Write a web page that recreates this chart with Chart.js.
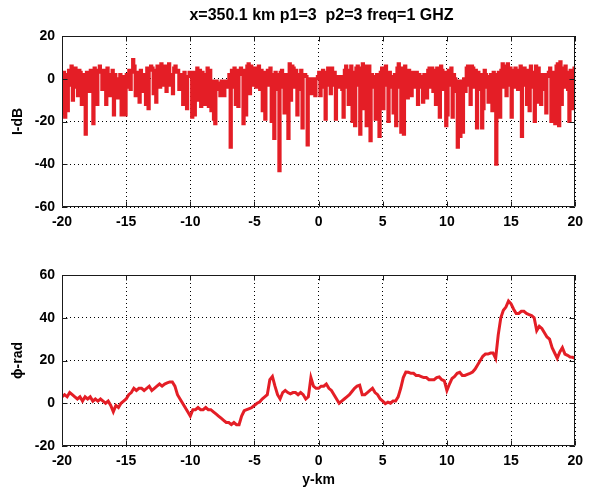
<!DOCTYPE html>
<html><head><meta charset="utf-8">
<script src="https://cdn.jsdelivr.net/npm/chart.js@4.4.1/dist/chart.umd.min.js"></script>
<style>
html,body{margin:0;padding:0;background:#fff;width:590px;height:494px;overflow:hidden}
#title{position:absolute;left:62px;width:519px;top:6px;text-align:center;font:bold 16px 'Liberation Sans','DejaVu Sans',sans-serif;color:#000;white-space:pre}
#c1{position:absolute;left:0;top:0}
#c2{position:absolute;left:0;top:240px}
</style></head><body>
<canvas id="c1" width="590" height="240"></canvas>
<canvas id="c2" width="590" height="254"></canvas>
<div id="title">x=350.1 km p1=3  p2=3 freq=1 GHZ</div>
<script>
// ---- data ----
const xStart = -20, xEnd = 20;
const xTicks = [-20, -15, -10, -5, 0, 5, 10, 15, 20];
const topTicks = [-60, -40, -20, 0, 20];
const bottomTicks = [-20, 0, 20, 40, 60];

// I-dB, samples every 0.1 km from -20 to 20
const intensityDb = [
 -16, 3, -18, 2, -15, 4, -3, 6, -10, 3,
 5, -4, -8, 4, 3, -12, 2, -5, -26, 3,
 2, -6, 4, -3, -21, 5, 3, -12, 4, 6,
 3, -5, 4, -4, -12, 5, -3, -8, 2, 4,
 -17, 2, -4, -9, 0, 2, -17, 1, -6, -17,
 2, -4, 4, -5, 3, 9, 6, -8, 3, -3,
 -11, 4, -2, -6, 2, -12, 5, -14, 4, 6,
 5, -7, 4, -11, 6, -2, -4, 7, 6, -3,
 6, -6, 5, 7, -3, 2, -7, 5, 6, 3,
 4, -5, 2, -3, -12, 3, -4, -14, 1, 3,
 2, -18, 3, -17, 1, 5, -10, 4, -13, 3,
 2, -12, -3, 5, -13, 4, -15, -1, -19, -21,
 -1, -5, -2, -8, -1, -6, -8, -1, -4, -2,
 2, -32, 4, -4, 5, -12, 4, -13, 3, 5,
 2, -21, 4, -17, 6, 7, -7, 6, -3, 4,
 5, -4, 3, 6, -5, 4, -15, 3, -19, 2,
 4, -3, 5, -20, 2, -28, 3, -5, 2, -43,
 3, 4, -4, -16, 2, -3, -28, 7, -10, 6,
 5, -4, 4, -17, 2, -5, 4, -23, 1, 2,
 1, -31, 0, -5, -7, 0, -4, -8, 0, 1,
 3, -8, 2, 4, -4, -19, 3, 5, -3, -7,
 5, -3, 3, -19, 1, -4, 0, 1, -5, -18,
 4, 6, -4, -12, 4, 6, -20, 3, -22, 5,
 6, -3, -26, 5, 7, -14, 6, -22, 4, 6,
 -29, 2, -4, 1, -19, 2, -5, -27, 3, 5,
 -14, 5, 6, -3, -20, 3, -4, 1, -16, 2,
 -22, 5, 7, -4, -25, 5, -26, 6, 3, -9,
 4, -3, -8, 3, -4, 2, 3, -12, 2, -4,
 1, -11, 2, -3, -9, 4, 5, -4, 5, -6,
 4, -12, 5, -3, -18, 6, 4, -5, 3, -22,
 -17, 4, -3, 5, -18, 2, 0, -6, -32, -1,
 -27, -1, -25, 0, -6, 5, 6, -3, -12, 6,
 5, -4, 4, -23, 3, -5, 2, -23, -14, 4,
 2, -4, -11, 1, 2, -15, 3, -5, -40, 2,
 3, -18, 4, 7, -4, 6, -8, 7, -3, 5,
 -18, 4, -4, 5, 4, -5, 2, 6, -27, 4,
 5, -3, -12, 4, -15, 6, -4, 3, -20, 6,
 -11, 5, -3, -12, 2, -5, 2, -16, 1, 3,
 5, -20, 3, -4, -21, 6, 7, -22, 8, -12,
 5, -4, 6, 3, -5, -20, 4, -3, -14, 5,
 4
];

// phase (rad), samples every 0.2 km from -20 to 20
const phaseRad = [
 3, 4, 3, 5, 4,
 3, 2, 3, 1, 3,
 2, 3, 1, 2, 1,
 2, 1, 0, 1, -1,
 -4, -1, -2, 0, 1,
 2, 4, 5, 7, 6,
 7, 7, 6, 7, 8,
 6, 7, 8, 9, 8,
 9, 9.5, 10, 10, 8,
 4, 2, 0, -2, -4,
 -6, -3, -3, -2, -3,
 -3, -2, -3, -3, -4,
 -5, -6, -7, -8, -9,
 -9, -10, -9, -10, -10,
 -6, -3.5, -3, -2.5, -2,
 -1, 0, 0.6, 2, 3,
 4, 11, 12.5, 8, 4,
 2, 5, 6, 5, 4.4,
 5, 5, 4, 5, 4,
 2, 3, 12, 8, 7,
 7, 8, 8, 9, 7,
 6, 4, 2, 0, 1,
 2, 3, 4, 5.5, 7,
 8, 8.4, 4, 4, 5,
 6, 7, 5, 4, 2,
 1, -0.2, 0.5, 0, 1,
 1, 3, 7, 12, 14.6,
 14.5, 14, 14, 13, 13,
 12.5, 12, 12, 11, 11,
 11, 12, 12.3, 11, 10.5,
 6, 9, 11.6, 12.5, 14,
 14.5, 13, 13, 13.5, 14,
 14.6, 16, 18, 20, 22,
 23, 23, 23.5, 23.5, 21,
 32, 40, 43.5, 45, 47.8,
 46.5, 44, 42, 42, 43,
 43, 42, 41.5, 41, 40,
 34, 36, 35, 33, 31,
 30, 26, 23.5, 21, 24,
 26, 23, 22.4, 21.6, 21.5,
 21
];

function toPoints(vals) {
  const step = (xEnd - xStart) / (vals.length - 1);
  return vals.map((v, i) => ({ x: xStart + i * step, y: v }));
}

const FONT = "'Liberation Sans','DejaVu Sans',sans-serif";
const RED = '#e41e26';

const boxPlugin = {
  id: 'box',
  afterDraw(chart) {
    const { ctx, chartArea: a, scales: { x, y } } = chart;
    const L = Math.round(a.left) + 0.5, R = Math.round(a.right) - 0.5;
    const T = Math.round(a.top) + 0.5, B = Math.round(a.bottom) - 0.5;
    ctx.save();
    ctx.strokeStyle = '#1a1a1a';
    ctx.lineWidth = 1;
    ctx.beginPath();
    ctx.rect(L, T, R - L, B - T);
    x.ticks.forEach(t => {
      const px = Math.round(x.getPixelForValue(t.value)) + 0.5;
      ctx.moveTo(px, B); ctx.lineTo(px, B - 5);
      ctx.moveTo(px, T); ctx.lineTo(px, T + 5);
    });
    y.ticks.forEach(t => {
      const py = Math.round(y.getPixelForValue(t.value)) + 0.5;
      ctx.moveTo(L, py); ctx.lineTo(L + 5, py);
      ctx.moveTo(R, py); ctx.lineTo(R - 5, py);
    });
    ctx.stroke();
    ctx.restore();
  }
};

function makeChart(id, data, yMin, yMax, yTitle, xTitle, padTop, xAxisH, lw, stepped) {
  return new Chart(document.getElementById(id), {
    type: 'line',
    data: { datasets: [{ data, borderColor: RED, borderWidth: lw, pointRadius: 0, stepped, tension: 0, fill: false }] },
    options: {
      responsive: false, animation: false,
      layout: { padding: { top: padTop, right: 9, left: 0, bottom: 0 } },
      plugins: { legend: { display: false }, tooltip: { enabled: false } },
      scales: {
        x: {
          type: 'linear', min: xStart, max: xEnd,
          afterBuildTicks: s => { s.ticks = xTicks.map(v => ({ value: v })); },
          ticks: { color: '#000', font: { family: FONT, size: 14, weight: 'bold' }, padding: 7, maxRotation: 0, autoSkip: false },
          grid: { color: '#000', lineWidth: 1, drawTicks: false },
          border: { display: false, dash: [1, 3] },
          title: { display: !!xTitle, text: xTitle, color: '#000', font: { family: FONT, size: 14, weight: 'bold' }, padding: { top: 0, bottom: 5 } },
          afterFit: s => { s.height = xAxisH; }
        },
        y: {
          type: 'linear', min: yMin, max: yMax,
          afterBuildTicks: s => { s.ticks = (yMin === -60 ? topTicks : bottomTicks).map(v => ({ value: v })); },
          ticks: { color: '#000', font: { family: FONT, size: 14, weight: 'bold' }, padding: 7 },
          grid: { color: '#000', lineWidth: 1, drawTicks: false },
          border: { display: false, dash: [1, 3] },
          title: { display: true, text: yTitle, color: '#000', font: { family: FONT, size: 14, weight: 'bold' }, padding: { top: 10, bottom: 0 } },
          afterFit: s => { s.width = 62; }
        }
      }
    },
    plugins: [boxPlugin]
  });
}

makeChart('c1', toPoints(intensityDb), -60, 20, 'I-dB', '', 36, 33, 3, true);
makeChart('c2', toPoints(phaseRad), -20, 60, 'ϕ-rad', 'y-km', 35, 48, 3, false);
</script>
</body></html>
